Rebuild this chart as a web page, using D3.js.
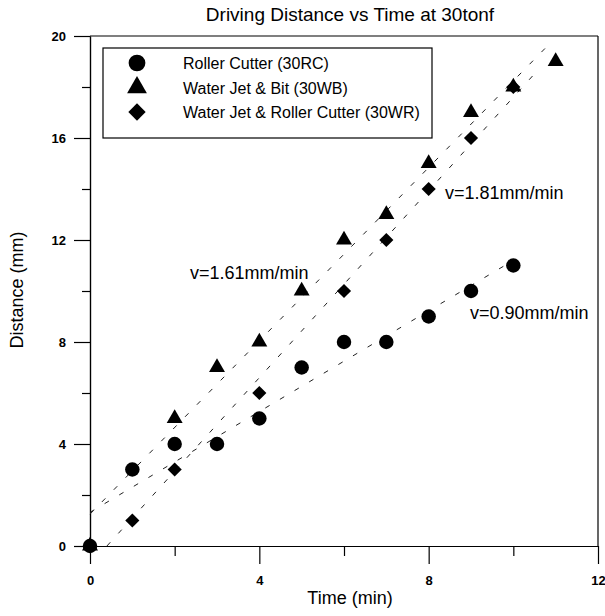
<!DOCTYPE html>
<html>
<head>
<meta charset="utf-8">
<script src="https://cdn.jsdelivr.net/npm/d3@7"></script>
<style>
  body { margin: 0; background: #fff; }
  svg { display: block; font-family: "Liberation Sans", Arial, sans-serif; }
  .axis path, .axis line { stroke: #000; stroke-width: 1.2; }
  .axis text { font-size: 13px; font-weight: bold; fill: #000; }
</style>
</head>
<body>
<svg id="chart" width="605" height="616"></svg>
<script>
// time in minutes
const rcTime = [0, 1, 2, 3, 4, 5, 6, 7, 8, 9, 10];
const rcDist = [0, 3, 4, 4, 5, 7, 8, 8, 9, 10, 11];

const wbTime = [0, 2, 3, 4, 5, 6, 7, 8, 9, 10, 11];
const wbDist = [0, 5, 7, 8, 10, 12, 13, 15, 17, 18, 19];

const wrTime = [0, 1, 2, 4, 6, 7, 8, 9, 10];
const wrDist = [0, 1, 3, 6, 10, 12, 14, 16, 18];

// dashed fit lines, end points
const rcFit = [[0, 1.32], [10, 11.2]];
const wbFit = [[0, 1.25], [10.8, 19.6]];
const wrFit = [[0.4, 0], [10.6, 18.7]];

const seriesNames = ['Roller Cutter (30RC)', 'Water Jet & Bit (30WB)', 'Water Jet & Roller Cutter (30WR)'];
const fitLabels = ['v=0.90mm/min', 'v=1.61mm/min', 'v=1.81mm/min'];

const xMajor = [0, 4, 8, 12];
const xMinor = [2, 6, 10];
const yMajor = [0, 4, 8, 12, 16, 20];
const yMinor = [2, 6, 10, 14, 18];

const svg = d3.select('#chart');

const x = d3.scaleLinear().domain([0, 12]).range([90, 598]);
const y = d3.scaleLinear().domain([0, 20]).range([546, 36]);

// frame top / right
svg.append('line')
    .attr('x1', x(0)).attr('x2', x(12))
    .attr('y1', y(20)).attr('y2', y(20))
    .attr('stroke', '#000').attr('stroke-width', 1.2);
svg.append('line')
    .attr('x1', x(12)).attr('x2', x(12))
    .attr('y1', y(0)).attr('y2', y(20))
    .attr('stroke', '#000').attr('stroke-width', 1.2);

// axes
svg.append('g')
    .attr('class', 'axis')
    .attr('transform', `translate(0,${y(0)})`)
    .call(d3.axisBottom(x).tickValues(xMajor).tickSize(18).tickSizeOuter(0).tickPadding(12).tickFormat(d3.format('d')));

svg.append('g')
    .attr('class', 'axis')
    .attr('transform', `translate(0,${y(0)})`)
    .call(d3.axisBottom(x).tickValues(xMinor).tickSize(10).tickSizeOuter(0).tickFormat(''));

svg.append('g')
    .attr('class', 'axis')
    .attr('transform', `translate(${x(0)},0)`)
    .call(d3.axisLeft(y).tickValues(yMajor).tickSize(16).tickSizeOuter(0).tickPadding(8).tickFormat(d3.format('d')));

svg.append('g')
    .attr('class', 'axis')
    .attr('transform', `translate(${x(0)},0)`)
    .call(d3.axisLeft(y).tickValues(yMinor).tickSize(8).tickSizeOuter(0).tickFormat(''));

// fit lines
let line = d3.line()
    .x(d => x(d[0]))
    .y(d => y(d[1]));

[rcFit, wbFit, wrFit].forEach(f => {
    svg.append('path')
        .attr('d', line(f))
        .attr('fill', 'none')
        .attr('stroke', '#222')
        .attr('stroke-width', 1)
        .attr('stroke-dasharray', '5,12');
});

// markers (diamond = square turned 45deg)
const symbols = [d3.symbolCircle, d3.symbolTriangle, d3.symbolSquare];
const rotation = [0, 0, 45];
const markerSize = [165, 110, 100];

function drawSeries(times, dists, i) {
    let pts = times.map((t, k) => [t, dists[k]]);

    svg.append('g')
        .selectAll('path')
        .data(pts)
        .enter()
        .append('path')
        .attr('transform', d => `translate(${x(d[0])},${y(d[1])}) rotate(${rotation[i]})`)
        .attr('d', d3.symbol().type(symbols[i]).size(markerSize[i]))
        .attr('fill', '#000');
}

drawSeries(rcTime, rcDist, 0);
drawSeries(wbTime, wbDist, 1);
drawSeries(wrTime, wrDist, 2);

// fit labels
const fitPos = [[470, 319], [190, 279], [445, 199]];
fitLabels.forEach((txt, i) => {
    svg.append('text')
        .attr('x', fitPos[i][0])
        .attr('y', fitPos[i][1])
        .attr('font-size', 18)
        .text(txt);
});

// legend
let legend = svg.append('g');

legend.append('rect')
    .attr('x', 103).attr('y', 48)
    .attr('width', 329).attr('height', 90)
    .attr('fill', '#fff')
    .attr('stroke', '#000')
    .attr('stroke-width', 1.2);

const legendSize = [220, 170, 150];
seriesNames.forEach((name, i) => {
    let ly = 63 + i * 24.5;

    legend.append('path')
        .attr('transform', `translate(137,${ly}) rotate(${rotation[i]})`)
        .attr('d', d3.symbol().type(symbols[i]).size(legendSize[i]))
        .attr('fill', '#000');

    legend.append('text')
        .attr('x', 183)
        .attr('y', ly + 6)
        .attr('font-size', 16)
        .text(name);
});

// titles
svg.append('text')
    .attr('x', 350)
    .attr('y', 21)
    .attr('text-anchor', 'middle')
    .attr('font-size', 19)
    .text('Driving Distance vs Time at 30tonf');

svg.append('text')
    .attr('x', 350)
    .attr('y', 604)
    .attr('text-anchor', 'middle')
    .attr('font-size', 18)
    .text('Time (min)');

svg.append('text')
    .attr('transform', 'translate(23,290) rotate(-90)')
    .attr('text-anchor', 'middle')
    .attr('font-size', 18)
    .text('Distance (mm)');
</script>
</body>
</html>
